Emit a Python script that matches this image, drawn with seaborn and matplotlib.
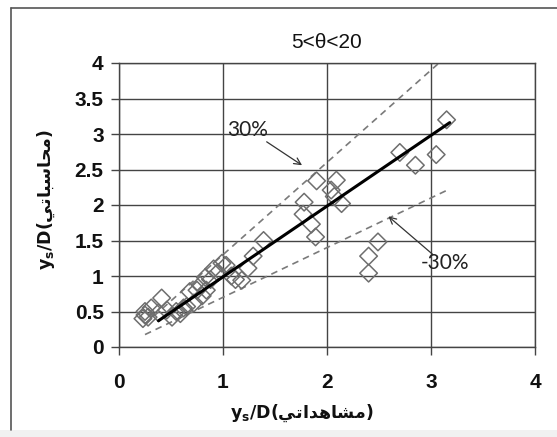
import matplotlib
matplotlib.use("Agg")
import matplotlib.pyplot as plt
from matplotlib.patches import Rectangle
from matplotlib.lines import Line2D
import numpy as np
import pandas as pd
import seaborn as sns

# Observed vs. computed relative scour depth, 5 < theta < 20
observed = [0.23, 0.25, 0.25, 0.28, 0.31, 0.38, 0.41, 0.46, 0.51, 0.55,
            0.59, 0.62, 0.65, 0.68, 0.72, 0.75, 0.78, 0.80, 0.84, 0.83,
            0.88, 0.91, 0.95, 0.99, 1.03, 1.08, 1.12, 1.18, 1.24, 1.29,
            1.39, 1.78, 1.77, 1.85, 1.89, 1.90, 2.04, 2.09, 2.07, 2.14,
            2.40, 2.40, 2.49, 2.70, 2.85, 3.05, 3.15]
computed = [0.40, 0.45, 0.50, 0.42, 0.55, 0.48, 0.69, 0.52, 0.42, 0.50,
            0.47, 0.55, 0.57, 0.78, 0.62, 0.80, 0.87, 0.72, 0.80, 0.98,
            0.95, 1.10, 1.05, 1.18, 1.15, 1.00, 0.95, 0.94, 1.11, 1.28,
            1.50, 2.04, 1.87, 1.73, 1.55, 2.34, 2.21, 2.35, 2.12, 2.02,
            1.04, 1.28, 1.48, 2.74, 2.56, 2.71, 3.20]

# fitted line end points
fit_x = [0.38, 3.18]
fit_y = [0.37, 3.16]

# +/-30 % error band
band_x = [0.25, 3.15]
upper_factor = 1.3
lower_factor = 0.7

x_ticks = [0, 1, 2, 3, 4]
y_ticks = [0, 0.5, 1, 1.5, 2, 2.5, 3, 3.5, 4]
y_tick_labels = ["0", "0.5", "1", "1.5", "2", "2.5", "3", "3.5", "4"]

title = "5<θ<20"
x_word = "مشاهداتي"
y_word = "محاسباتي"

# minimal Arabic shaping (isolated, final, initial, medial)
FORMS = {
    "ا": (0xFE8D, 0xFE8E, None, None),
    "ب": (0xFE8F, 0xFE90, 0xFE91, 0xFE92),
    "ت": (0xFE95, 0xFE96, 0xFE97, 0xFE98),
    "ح": (0xFEA1, 0xFEA2, 0xFEA3, 0xFEA4),
    "د": (0xFEA9, 0xFEAA, None, None),
    "س": (0xFEB1, 0xFEB2, 0xFEB3, 0xFEB4),
    "ش": (0xFEB5, 0xFEB6, 0xFEB7, 0xFEB8),
    "م": (0xFEE1, 0xFEE2, 0xFEE3, 0xFEE4),
    "ه": (0xFEE9, 0xFEEA, 0xFEEB, 0xFEEC),
    "ي": (0xFEF1, 0xFEF2, 0xFEF3, 0xFEF4),
}


def shape_arabic(word):
    out = []
    for i, ch in enumerate(word):
        dual = FORMS[ch][2] is not None
        prev_joins = i > 0 and FORMS[word[i - 1]][2] is not None
        next_joins = dual and i < len(word) - 1
        if prev_joins and next_joins:
            code = FORMS[ch][3]
        elif prev_joins:
            code = FORMS[ch][1]
        elif next_joins:
            code = FORMS[ch][2]
        else:
            code = FORMS[ch][0]
        out.append(chr(code))
    return "".join(reversed(out))


sns.set_theme(style="white")
plt.rcParams["mathtext.fontset"] = "dejavusans"

fig = plt.figure(figsize=(5.57, 4.37), dpi=100)
fig.patch.set_facecolor("white")

# outer chart frame and lower page strip
fig.add_artist(Rectangle((0, 0), 1, 7 / 437, transform=fig.transFigure,
                         facecolor="#f1f1f1", edgecolor="none", zorder=0))
fig.add_artist(Line2D([11 / 557, 11 / 557], [7 / 437, 1 - 8 / 437],
                      transform=fig.transFigure, color="#555555", lw=1.2))
fig.add_artist(Line2D([11 / 557, 1], [1 - 8 / 437, 1 - 8 / 437],
                      transform=fig.transFigure, color="#555555", lw=1.2))

ax = fig.add_axes([119 / 557, 1 - 347 / 437, 416 / 557, 284 / 437])

df = pd.DataFrame({"observed": observed, "computed": computed})
band = pd.DataFrame({"x": band_x})
band["upper"] = band["x"] * upper_factor
band["lower"] = band["x"] * lower_factor

sns.lineplot(data=band, x="x", y="upper", ax=ax, color="#7a7a7a", lw=1.2,
             linestyle=(0, (4, 3)), zorder=2)
sns.lineplot(data=band, x="x", y="lower", ax=ax, color="#7a7a7a", lw=1.2,
             linestyle=(0, (4, 3)), zorder=2)
sns.scatterplot(data=df, x="observed", y="computed", ax=ax, marker="D",
                s=80, facecolors="none", edgecolors="#6e6e6e", linewidths=1.1,
                zorder=3)
sns.lineplot(x=fit_x, y=fit_y, ax=ax, color="black", lw=2.2, zorder=4)

ax.set_xlim(0, 4)
ax.set_ylim(0, 4)
ax.set_xticks(x_ticks)
ax.set_yticks(y_ticks)
ax.set_yticklabels(y_tick_labels)
ax.grid(True, color="#444444", lw=1.0)
ax.set_axisbelow(True)
for side in ["left", "bottom", "top", "right"]:
    ax.spines[side].set_color("#444444")
    ax.spines[side].set_linewidth(1.0)
ax.tick_params(axis="both", which="major", direction="out", length=6,
               width=1.0, color="#444444", left=True, bottom=True)
ax.tick_params(axis="y", pad=5)
ax.tick_params(axis="x", pad=13)
for lab in ax.get_xticklabels() + ax.get_yticklabels():
    lab.set_fontfamily("Liberation Sans")
    lab.set_fontweight("bold")
    lab.set_fontsize(15)
    lab.set_color("#111111")

ax.set_title(title, fontfamily="Liberation Sans", fontsize=15,
             color="#111111", pad=11)

xlab = r"$\mathbf{y_s}$" + "/D(" + shape_arabic(x_word) + ")"
ylab = r"$\mathbf{y_s}$" + "/D(" + shape_arabic(y_word) + ")"
ax.set_xlabel(xlab, fontfamily="DejaVu Sans", fontweight="bold",
              fontsize=12.5, color="#111111")
ax.set_ylabel(ylab, fontfamily="DejaVu Sans", fontweight="bold",
              fontsize=12.5, color="#111111")
ax.xaxis.set_label_coords(0.44, -0.195)
ax.yaxis.set_label_coords(-0.148, 0.52)

arrow = dict(arrowstyle="->", color="#333333", lw=0.9, shrinkA=0, shrinkB=0)
ax.annotate("", xy=(1.76, 2.56), xytext=(1.42, 2.89), arrowprops=arrow)
ax.text(1.24, 3.06, "30%", fontfamily="Lato", fontsize=15, color="#222222",
        ha="center", va="center")
ax.annotate("", xy=(2.59, 1.84), xytext=(3.02, 1.30), arrowprops=arrow)
ax.text(3.13, 1.18, "-30%", fontfamily="Lato", fontsize=15, color="#222222",
        ha="center", va="center")

fig.savefig("out.png", dpi=100, facecolor="white")
